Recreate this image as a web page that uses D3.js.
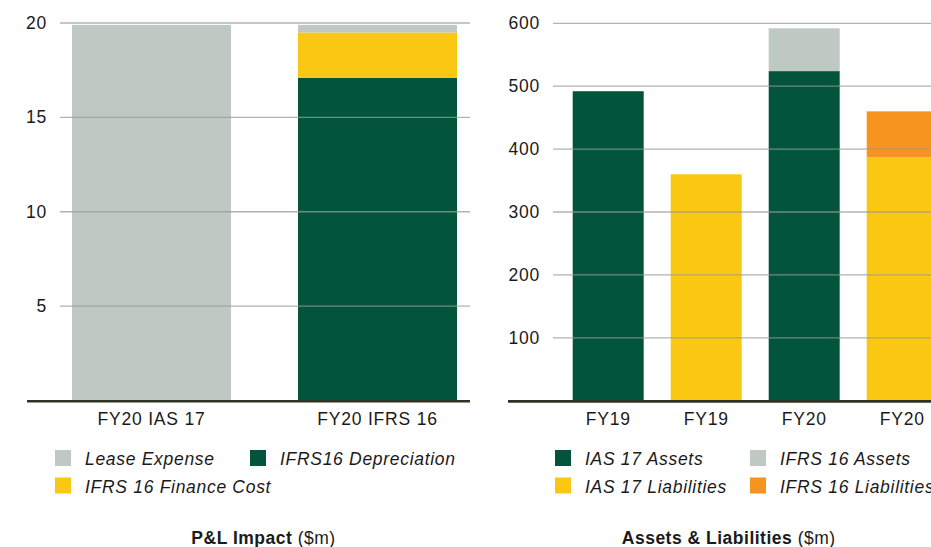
<!DOCTYPE html>
<html>
<head>
<meta charset="utf-8">
<script src="https://cdn.jsdelivr.net/npm/d3@7"></script>
<style>
  html, body { margin: 0; padding: 0; background: #fff; }
  svg { display: block; }
  text { font-family: "Liberation Sans", Arial, Helvetica, sans-serif; fill: #1a1a1a; }
</style>
</head>
<body>
<svg id="chart"></svg>
<script>
// P&L vs Balance sheet — IAS 17 / IFRS 16

const width = 931;
const height = 547;

// --- data -------------------------------------------------------------
// left panel: P&L Impact ($m)
const plCategories = ["FY20 IAS 17", "FY20 IFRS 16"];
const plDepreciation = [0, 17.1];
const plFinanceCost = [0, 2.4];
const plLeaseExpense = [19.9, 0.4];
const plTicks = [5, 10, 15, 20];

// right panel: Assets & Liabilities ($m)
const alCategories = ["FY19 A", "FY19 L", "FY20 A", "FY20 L"];
const alLabels = ["FY19", "FY19", "FY20", "FY20"];
const alIas17 = [492, 360, 524, 387];   // IAS 17 assets / liabilities
const alIfrs16 = [0, 0, 68, 73];        // IFRS 16 increment
const alKind = ["assets", "liabilities", "assets", "liabilities"];
const alTicks = [100, 200, 300, 400, 500, 600];

const colors = {
  grey: "#bfc8c2",
  green: "#02553b",
  yellow: "#fac812",
  orange: "#f7941f"
};

const svg = d3.select("#chart")
  .attr("width", width)
  .attr("height", height);

// ---------------------------------------------------------------------
// 1. left panel
const yL = d3.scaleLinear().domain([0, 20]).range([400.5, 23]);
const xL = d3.scaleBand().domain(plCategories).range([72, 457]).paddingInner(67 / 226).paddingOuter(0);

const gL = svg.append("g");

// stacked data
const plRows = plCategories.map(function (c, i) {
  return { cat: c, dep: plDepreciation[i], fin: plFinanceCost[i], lease: plLeaseExpense[i] };
});
const plStack = d3.stack().keys(["dep", "fin", "lease"])(plRows);
const plFill = { dep: colors.green, fin: colors.yellow, lease: colors.grey };

gL.selectAll("g.layer")
  .data(plStack)
  .enter().append("g")
  .attr("fill", function (d) { return plFill[d.key]; })
  .selectAll("rect")
  .data(function (d) { return d; })
  .enter().append("rect")
  .attr("x", function (d) { return xL(d.data.cat); })
  .attr("width", xL.bandwidth())
  .attr("y", function (d) { return yL(d[1]); })
  .attr("height", function (d) { return yL(d[0]) - yL(d[1]); });

// grid lines (drawn over bars)
gL.selectAll("line.grid")
  .data(plTicks)
  .enter().append("line")
  .attr("x1", 60).attr("x2", 470)
  .attr("y1", function (d) { return yL(d); })
  .attr("y2", function (d) { return yL(d); })
  .attr("stroke", "#9a9a96")
  .attr("stroke-opacity", 0.75)
  .attr("stroke-width", 1.3);

gL.selectAll("text.tick")
  .data(plTicks)
  .enter().append("text")
  .attr("x", 47)
  .attr("y", function (d) { return yL(d) + 6; })
  .attr("text-anchor", "end")
  .style("font-size", "17.5px")
  .style("letter-spacing", "0.8px")
  .text(function (d) { return d; });

gL.append("line")
  .attr("x1", 27).attr("x2", 470)
  .attr("y1", 401.2).attr("y2", 401.2)
  .attr("stroke", "#2e3424")
  .attr("stroke-width", 2.6);

gL.selectAll("text.cat")
  .data(plCategories)
  .enter().append("text")
  .attr("x", function (d) { return xL(d) + xL.bandwidth() / 2; })
  .attr("y", 425)
  .attr("text-anchor", "middle")
  .style("font-size", "17.5px")
  .style("letter-spacing", "0.8px")
  .text(function (d) { return d; });

// ---------------------------------------------------------------------
// 2. right panel
const yR = d3.scaleLinear().domain([0, 600]).range([400.7, 23.3]);
const xR = d3.scaleBand().domain(alCategories).range([572.7, 937.7]).paddingInner(27 / 98).paddingOuter(0);

const gR = svg.append("g");

const alRows = alCategories.map(function (c, i) {
  return { cat: c, base: alIas17[i], extra: alIfrs16[i], kind: alKind[i] };
});
const alStack = d3.stack().keys(["base", "extra"])(alRows);

gR.selectAll("g.layer")
  .data(alStack)
  .enter().append("g")
  .selectAll("rect")
  .data(function (d) {
    return d.map(function (p) { p.key = d.key; return p; });
  })
  .enter().append("rect")
  .attr("x", function (d) { return xR(d.data.cat); })
  .attr("width", xR.bandwidth())
  .attr("y", function (d) { return yR(d[1]); })
  .attr("height", function (d) { return yR(d[0]) - yR(d[1]); })
  .attr("fill", function (d) {
    if (d.data.kind === "assets") return d.key === "base" ? colors.green : colors.grey;
    return d.key === "base" ? colors.yellow : colors.orange;
  });

gR.selectAll("line.grid")
  .data(alTicks)
  .enter().append("line")
  .attr("x1", 553).attr("x2", width)
  .attr("y1", function (d) { return yR(d); })
  .attr("y2", function (d) { return yR(d); })
  .attr("stroke", "#9a9a96")
  .attr("stroke-opacity", 0.75)
  .attr("stroke-width", 1.3);

gR.selectAll("text.tick")
  .data(alTicks)
  .enter().append("text")
  .attr("x", 540)
  .attr("y", function (d) { return yR(d) + 6; })
  .attr("text-anchor", "end")
  .style("font-size", "17.5px")
  .style("letter-spacing", "0.8px")
  .text(function (d) { return d; });

gR.append("line")
  .attr("x1", 508).attr("x2", width)
  .attr("y1", 401.4).attr("y2", 401.4)
  .attr("stroke", "#2e3424")
  .attr("stroke-width", 2.6);

gR.selectAll("text.cat")
  .data(alCategories)
  .enter().append("text")
  .attr("x", function (d) { return xR(d) + xR.bandwidth() / 2; })
  .attr("y", 425)
  .attr("text-anchor", "middle")
  .style("font-size", "17.5px")
  .style("letter-spacing", "0.8px")
  .text(function (d, i) { return alLabels[i]; });

// ---------------------------------------------------------------------
// 3. legends
const plLegend = [
  { label: "Lease Expense", color: colors.grey, x: 55, row: 0 },
  { label: "IFRS16 Depreciation", color: colors.green, x: 250, row: 0 },
  { label: "IFRS 16 Finance Cost", color: colors.yellow, x: 55, row: 1 }
];
const alLegend = [
  { label: "IAS 17 Assets", color: colors.green, x: 555, row: 0 },
  { label: "IFRS 16 Assets", color: colors.grey, x: 750, row: 0 },
  { label: "IAS 17 Liabilities", color: colors.yellow, x: 555, row: 1 },
  { label: "IFRS 16 Liabilities", color: colors.orange, x: 750, row: 1 }
];

function drawLegend(items) {
  const g = svg.append("g").selectAll("g")
    .data(items)
    .enter().append("g")
    .attr("transform", function (d) { return "translate(" + d.x + "," + (450 + d.row * 27.5) + ")"; });
  g.append("rect")
    .attr("width", 16).attr("height", 16)
    .attr("fill", function (d) { return d.color; });
  g.append("text")
    .attr("x", 30)
    .attr("y", 15)
    .style("font-size", "17.5px")
    .style("font-style", "italic")
    .style("letter-spacing", "0.7px")
    .text(function (d) { return d.label; });
}
drawLegend(plLegend);
drawLegend(alLegend);

// ---------------------------------------------------------------------
// 4. panel titles
function drawTitle(cx, bold, rest) {
  const t = svg.append("text")
    .attr("x", cx)
    .attr("y", 544)
    .attr("text-anchor", "middle")
    .style("font-size", "17.5px")
    .style("letter-spacing", "0.5px");
  t.append("tspan").style("font-weight", "bold").text(bold);
  t.append("tspan").text(" " + rest);
}
drawTitle(263.5, "P&L Impact", "($m)");
drawTitle(728.7, "Assets & Liabilities", "($m)");
</script>
</body>
</html>
